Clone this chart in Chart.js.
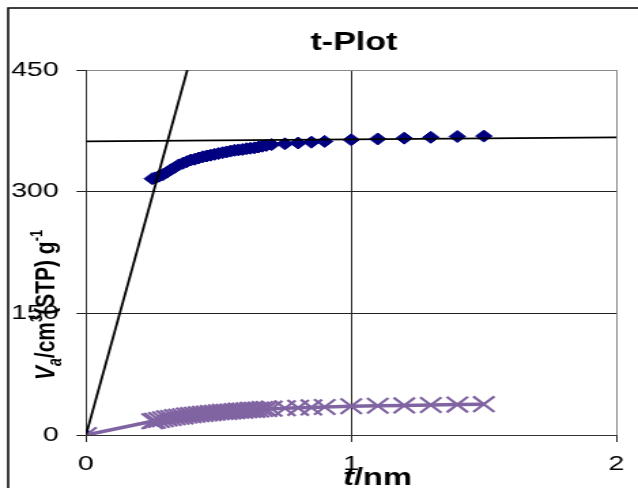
<!DOCTYPE html>
<html>
<head>
<meta charset="utf-8">
<title>t-Plot</title>
<script src="https://cdn.jsdelivr.net/npm/chart.js"></script>
<style>
  html, body { margin: 0; padding: 0; background: #fff; overflow: hidden; }
  /* the original picture is stretched sideways, so draw narrow and widen it */
  #wrap { width: 469px; height: 488px; transform-origin: 0 0; transform: scaleX(1.3603); }
</style>
</head>
<body>
<div id="wrap"><canvas id="tplot" width="469" height="488"></canvas></div>
<script>
// t (nm) shared by both samples
const tValues = [0, 0.25, 0.26, 0.275, 0.29, 0.305, 0.32, 0.335, 0.35, 0.365, 0.38, 0.395, 0.41, 0.425,
  0.44, 0.455, 0.47, 0.485, 0.5, 0.515, 0.53, 0.545, 0.56, 0.575, 0.59, 0.605, 0.62, 0.635, 0.65,
  0.665, 0.68, 0.7, 0.75, 0.8, 0.85, 0.9, 1.0, 1.1, 1.2, 1.3, 1.4, 1.5];
// adsorbed volume, blue diamonds
const vBlue = [0, 316, 317, 319, 321, 324, 327, 330, 333, 335, 337, 339, 340, 341.5, 343, 344, 345,
  346, 347, 348, 349, 350, 351, 351.5, 352, 353, 353.5, 354, 355, 356, 357, 358, 359, 360, 361, 362,
  364, 365, 366, 367, 368, 368.5];
// adsorbed volume, purple crosses
const vPurple = [0, 17, 17.5, 18.5, 19.5, 20.5, 21, 22, 22.5, 23, 24, 24.5, 25, 25.5, 26, 26.5, 27,
  27.5, 28, 28.5, 28.5, 29, 29.5, 30, 30, 30.5, 31, 31, 31.5, 32, 32, 32.5, 33, 33.5, 34, 34.5, 35.5,
  36, 36.5, 37, 37.5, 38];
// fitted straight lines
const steepT = [0, 0.382];
const steepV = [0, 450];
const flatT = [0, 2];
const flatV = [362, 367];
const xTicks = [0, 1, 2];
const yTicks = [0, 150, 300, 450];

const FONT = '"Liberation Sans", Arial, sans-serif';
const pts = (xs, ys) => xs.map((x, i) => ({ x: x, y: ys[i] }));

function drawParts(ctx, parts, x, y) {
  parts.forEach(p => {
    ctx.font = p.font;
    ctx.fillText(p.text, x, y + (p.dy || 0));
    x += ctx.measureText(p.text).width;
  });
}

const decor = {
  id: 'decor',
  beforeDraw(chart) {
    const c = chart.ctx;
    c.save();
    c.fillStyle = '#fff';
    c.fillRect(0, 0, chart.width, chart.height);
    c.restore();
  },
  afterDraw(chart) {
    const c = chart.ctx;
    const area = chart.chartArea;
    c.save();
    // outer frame
    c.strokeStyle = '#000';
    c.lineWidth = 1.5;
    c.strokeRect(6, 8, 600, 600);

    c.fillStyle = '#000';
    c.textBaseline = 'alphabetic';
    // title
    c.font = 'bold 25px ' + FONT;
    c.textAlign = 'center';
    c.fillText('t-Plot', (area.left + area.right) / 2 + 2, 50);

    // x title
    c.textAlign = 'left';
    const x1 = chart.scales.x.getPixelForValue(1);
    drawParts(c, [
      { text: 't', font: 'italic bold 24px ' + FONT },
      { text: '/nm', font: 'bold 24px ' + FONT }
    ], x1 - 6, 485);

    // y title, rotated
    c.translate(40, 380);
    c.rotate(-Math.PI / 2);
    drawParts(c, [
      { text: 'V', font: 'italic bold 21px ' + FONT },
      { text: 'a', font: 'italic bold 14px ' + FONT, dy: 5 },
      { text: '/cm', font: 'bold 21px ' + FONT },
      { text: '3', font: 'bold 13px ' + FONT, dy: -9 },
      { text: '(STP) g', font: 'bold 21px ' + FONT },
      { text: '-1', font: 'bold 13px ' + FONT, dy: -9 }
    ], 0, 0);
    c.restore();
  }
};

const ctx = document.getElementById('tplot').getContext('2d');
const tChart = new Chart(ctx, {
  type: 'scatter',
  data: {
    datasets: [
      {
        label: 'fit 1',
        data: pts(steepT, steepV),
        showLine: true,
        borderColor: '#000',
        borderWidth: 1.8,
        pointRadius: 0,
        order: 0
      },
      {
        label: 'fit 2',
        data: pts(flatT, flatV),
        showLine: true,
        borderColor: '#000',
        borderWidth: 1.8,
        pointRadius: 0,
        order: 0
      },
      {
        label: 'sample 2',
        data: pts(tValues, vPurple),
        showLine: true,
        borderColor: '#8064a2',
        borderWidth: 3.5,
        pointStyle: 'crossRot',
        pointRadius: 11,
        pointBorderWidth: 2.2,
        pointBorderColor: '#8064a2',
        order: 1
      },
      {
        label: 'sample 1',
        data: pts(tValues, vBlue),
        showLine: false,
        pointStyle: 'rectRot',
        pointRadius: 6,
        pointBackgroundColor: '#000080',
        pointBorderColor: '#000080',
        pointBorderWidth: 1,
        order: 2
      }
    ]
  },
  options: {
    responsive: false,
    animation: false,
    devicePixelRatio: 1,
    layout: { padding: { left: 0, top: 70, right: 12.5, bottom: 0 } },
    plugins: {
      legend: { display: false },
      tooltip: { enabled: false },
      title: { display: false }
    },
    scales: {
      x: {
        type: 'linear',
        min: 0,
        max: 2,
        afterBuildTicks: s => { s.ticks = xTicks.map(v => ({ value: v })); },
        afterFit: s => { s.height = 53; },
        grid: {
          color: c => c.tick && c.tick.value === 2 ? '#888' : '#222',
          tickColor: '#222',
          tickLength: 7,
          lineWidth: 1
        },
        border: { color: '#333', width: 1 },
        ticks: { color: '#000', font: { family: FONT, size: 21 }, padding: 10, maxRotation: 0 }
      },
      y: {
        type: 'linear',
        min: 0,
        max: 450,
        afterBuildTicks: s => { s.ticks = yTicks.map(v => ({ value: v })); },
        afterFit: s => { s.width = 63.2; },
        grid: {
          color: c => c.tick && c.tick.value === 450 ? '#888' : '#222',
          tickColor: '#222',
          tickLength: 7,
          lineWidth: 1
        },
        border: { color: '#333', width: 1 },
        ticks: { color: '#000', font: { family: FONT, size: 21 }, padding: 13 }
      }
    }
  },
  plugins: [decor]
});
</script>
</body>
</html>
